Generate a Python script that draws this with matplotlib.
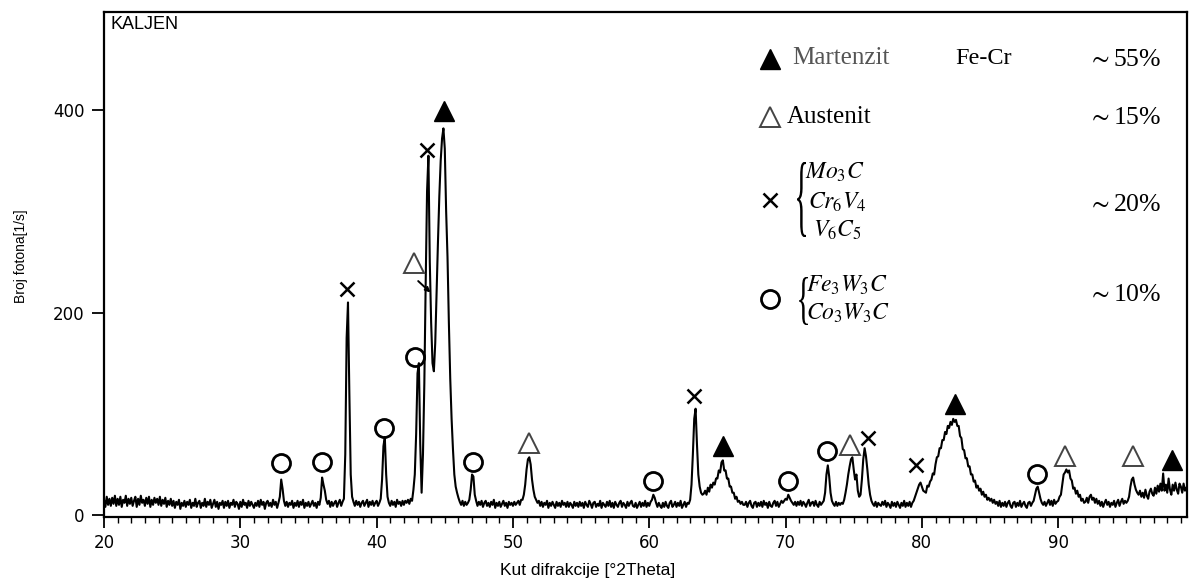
import numpy as np
import matplotlib
matplotlib.use("Agg")
import matplotlib.pyplot as plt
from matplotlib.ticker import MultipleLocator
from matplotlib.textpath import TextPath
from matplotlib.patches import PathPatch
from matplotlib.font_manager import FontProperties
from matplotlib.transforms import Affine2D, IdentityTransform

plt.rcParams.update({"font.family": "Liberation Sans", "mathtext.fontset": "stix"})

W, H = 1194, 583

# measured counts, one value every 0.1 deg 2theta, one row per degree (20.0 ... 99.9)
counts = [
    15, 8, 18, 10, 16, 9, 17, 11, 19, 9,        # 20
    16, 10, 18, 8, 15, 12, 19, 9, 16, 11,       # 21
    17, 9, 14, 18, 8, 16, 10, 19, 12, 15,       # 22
    9, 17, 11, 18, 8, 15, 10, 17, 12, 16,       # 23
    10, 18, 9, 15, 11, 17, 8, 14, 10, 16,       # 24
    9, 14, 7, 13, 10, 15, 6, 12, 9, 14,         # 25
    8, 13, 10, 15, 7, 12, 9, 16, 8, 12,         # 26
    14, 7, 12, 9, 16, 8, 13, 10, 15, 7,         # 27
    11, 15, 8, 13, 6, 12, 10, 14, 7, 13,        # 28
    9, 14, 7, 12, 10, 15, 8, 13, 11, 6,         # 29
    13, 8, 15, 10, 12, 7, 14, 9, 13, 10,        # 30
    7, 12, 9, 14, 8, 15, 10, 13, 6, 12,         # 31
    14, 9, 12, 8, 15, 10, 13, 7, 12, 18,        # 32
    35, 26, 14, 9, 13, 8, 12, 10, 14, 7,        # 33
    12, 9, 14, 8, 13, 10, 15, 7, 12, 9,         # 34
    13, 8, 11, 14, 9, 12, 7, 13, 10, 17,        # 35
    37, 30, 24, 15, 11, 14, 8, 13, 9, 12,       # 36
    14, 8, 12, 15, 9, 13, 16, 60, 175, 210,     # 37
    120, 40, 18, 13, 9, 14, 10, 13, 8, 12,      # 38
    14, 9, 12, 15, 8, 13, 10, 14, 9, 12,        # 39
    14, 9, 12, 16, 35, 68, 77, 40, 18, 12,      # 40
    9, 14, 10, 13, 8, 15, 11, 13, 9, 14,        # 41
    10, 14, 12, 15, 11, 16, 14, 25, 40, 80,     # 42
    140, 150, 70, 22, 60, 130, 230, 320, 355, 250,   # 43
    190, 150, 142, 170, 220, 270, 315, 350, 372, 382,  # 44
    362, 300, 255, 190, 135, 95, 65, 40, 28, 22,  # 45
    17, 13, 10, 14, 9, 13, 10, 12, 15, 25,      # 46
    40, 38, 20, 14, 9, 13, 10, 14, 8, 12,       # 47
    14, 9, 12, 8, 13, 10, 15, 7, 12, 9,         # 48
    13, 8, 11, 14, 9, 12, 7, 13, 10, 12,        # 49
    9, 13, 10, 12, 14, 10, 15, 15, 20, 30,      # 50
    45, 55, 57, 50, 35, 25, 18, 15, 12, 14,     # 51
    9, 13, 8, 12, 10, 14, 7, 12, 9, 13,         # 52
    10, 7, 13, 9, 12, 8, 14, 10, 12, 8,         # 53
    13, 8, 12, 10, 7, 13, 9, 12, 8, 13,         # 54
    9, 12, 7, 13, 10, 8, 14, 11, 7, 12,         # 55
    13, 8, 11, 9, 14, 7, 12, 10, 8, 13,         # 56
    9, 14, 8, 12, 7, 13, 10, 8, 12, 14,         # 57
    8, 12, 10, 7, 13, 9, 12, 14, 9, 8,          # 58
    12, 7, 10, 13, 8, 12, 9, 14, 8, 12,         # 59
    9, 13, 15, 20, 17, 12, 8, 12, 9, 7,         # 60
    12, 8, 13, 9, 7, 12, 14, 8, 10, 13,         # 61
    8, 12, 9, 14, 7, 10, 13, 8, 12, 11,         # 62
    15, 30, 60, 95, 105, 70, 40, 28, 22, 20,    # 63
    21, 24, 20, 27, 23, 30, 27, 32, 30, 36,     # 64
    36, 44, 42, 52, 54, 44, 44, 36, 36, 28,     # 65
    28, 22, 22, 16, 18, 13, 14, 11, 13, 10,     # 66
    10, 13, 8, 12, 14, 9, 7, 12, 13, 8,         # 67
    12, 9, 13, 8, 14, 10, 12, 7, 13, 9,         # 68
    8, 12, 14, 9, 13, 8, 11, 14, 12, 14,        # 69
    16, 15, 20, 17, 14, 12, 10, 13, 9, 13,      # 70
    10, 14, 9, 13, 11, 8, 12, 15, 9, 12,        # 71
    13, 9, 14, 10, 8, 13, 10, 12, 14, 22,       # 72
    40, 49, 38, 22, 14, 11, 9, 13, 9, 12,       # 73
    10, 12, 11, 15, 22, 30, 40, 48, 55, 57,     # 74
    45, 35, 40, 24, 18, 20, 35, 55, 66, 58,     # 75
    45, 30, 20, 14, 11, 9, 13, 8, 12, 10,       # 76
    9, 13, 10, 14, 8, 12, 10, 7, 13, 9,         # 77
    12, 8, 13, 10, 7, 12, 9, 14, 8, 12,         # 78
    9, 13, 8, 12, 14, 18, 22, 26, 30, 32,       # 79
    28, 24, 23, 22, 29, 28, 33, 35, 41, 40,     # 80
    50, 57, 58, 66, 66, 74, 74, 82, 80, 88,     # 81
    86, 92, 89, 95, 92, 94, 88, 88, 78, 76,     # 82
    65, 64, 56, 56, 48, 48, 40, 40, 33, 34,     # 83
    27, 29, 24, 26, 20, 23, 18, 20, 15, 17,     # 84
    14, 16, 12, 15, 11, 13, 9, 14, 8, 12,       # 85
    9, 13, 8, 12, 14, 9, 7, 12, 13, 8,          # 86
    12, 9, 14, 8, 11, 13, 9, 7, 12, 13,         # 87
    9, 12, 14, 20, 26, 28, 22, 16, 12, 10,      # 88
    13, 9, 12, 15, 10, 14, 9, 15, 11, 13,       # 89
    14, 18, 20, 30, 40, 42, 45, 42, 44, 36,     # 90
    34, 26, 27, 21, 24, 18, 20, 14, 16, 12,     # 91
    13, 17, 12, 18, 20, 15, 17, 12, 16, 11,     # 92
    14, 9, 13, 8, 12, 15, 10, 13, 8, 12,        # 93
    10, 14, 8, 12, 15, 9, 13, 16, 11, 14,       # 94
    12, 14, 18, 28, 35, 37, 30, 25, 22, 20,     # 95
    24, 18, 22, 17, 25, 19, 16, 23, 26, 21,     # 96
    19, 27, 21, 29, 23, 31, 24, 41, 24, 30,     # 97
    22, 36, 25, 20, 30, 24, 32, 25, 21, 31,     # 98
    28, 22, 31, 24, 27, 29, 22, 28, 25, 30,     # 99
]
two_theta = np.round(20.0 + 0.1 * np.arange(len(counts)), 1)

# phase markers (2theta, height of symbol)
martenzit_x = [44.95, 65.4, 82.45, 98.35]
martenzit_y = [399, 68, 110, 54]
austenit_x = [42.75, 51.2, 74.7, 90.5, 95.5]
austenit_y = [249, 71, 69, 58, 58]
karbid_x = [37.85, 43.7, 63.3, 76.05, 79.6]
karbid_y = [223, 361, 118, 76, 49]
eta_x = [33.0, 36.0, 40.55, 42.8, 47.05, 60.3, 70.2, 73.05, 88.45]
eta_y = [51, 52, 86, 156, 52, 34, 34, 63, 40]

phase_names = ["Martenzit", "Austenit"]
phase_pct = [r"$\sim$55%", r"$\sim$15%", r"$\sim$20%", r"$\sim$10%"]
karbid_formulas = ["$Mo_3C$", "$Cr_6V_4$", "$V_6C_5$"]
eta_formulas = ["$Fe_3W_3C$", "$Co_3W_3C$"]

fig = plt.figure(figsize=(W / 100, H / 100), dpi=100)
ax = fig.add_axes([104 / W, 1 - 517 / H, 1083 / W, 505 / H])

ax.plot(two_theta, counts, color="black", lw=1.5)

mk = dict(ls="none", clip_on=False)
ax.plot(martenzit_x, martenzit_y, marker="^", ms=14, mfc="black", mec="black", **mk)
ax.plot(austenit_x, austenit_y, marker="^", ms=14, mfc="white", mec="#444444", mew=1.4, **mk)
ax.plot(karbid_x, karbid_y, marker="x", ms=10, mec="black", mew=1.8, **mk)
ax.plot(eta_x, eta_y, marker="o", ms=13, mfc="none", mec="black", mew=2.0, **mk)
ax.annotate("", xy=(44.1, 218), xytext=(42.9, 233),
            arrowprops=dict(arrowstyle="-|>", lw=1.4, color="black", mutation_scale=7))

ax.set_xlim(20, 99.45)
ax.set_ylim(-2, 497)
ax.set_xticks(range(20, 100, 10))
ax.xaxis.set_minor_locator(MultipleLocator(1))
ax.set_yticks([0, 200, 400])
ax.tick_params(axis="x", which="major", direction="out", length=8, width=1.3, pad=4,
               labelsize=12, labelfontfamily="DejaVu Sans")
ax.tick_params(axis="x", which="minor", direction="out", length=4, width=1.0)
ax.tick_params(axis="y", which="major", direction="out", length=9, width=1.3, pad=5,
               labelsize=12, labelfontfamily="DejaVu Sans")
for s in ax.spines.values():
    s.set_linewidth(1.6)

ax.set_xlabel("Kut difrakcije [°2Theta]", fontsize=12.5)
ax.xaxis.set_label_coords(0.447, -0.092)
ax.set_ylabel("Broj fotona[1/s]", fontsize=10)
ax.yaxis.set_label_coords(-0.07, 0.517)
ax.text(0.006, 0.992, "KALJEN", transform=ax.transAxes, fontsize=13, va="top", ha="left")


# ---- phase legend (top right) ----
def fpos(px, py):
    return px / W, 1 - py / H


def brace(px, top, bottom, width=9):
    tp = TextPath((0, 0), "{", size=20, prop=FontProperties(family="Liberation Serif"))
    ext = tp.get_extents()
    tr = (Affine2D().translate(-ext.x0, -ext.y0)
          .scale(width / ext.width, (bottom - top) / ext.height)
          .translate(px, H - bottom))
    fig.add_artist(PathPatch(tr.transform_path(tp), transform=IdentityTransform(),
                             fc="black", ec="none"))


def legend_marker(px, py, **kw):
    x, y = fpos(px, py)
    fig.add_artist(plt.Line2D([x], [y], transform=fig.transFigure, **kw))


serif = dict(family="Liberation Serif", va="center", ha="left")
legend_marker(770, 59, marker="^", ms=14, color="black")
legend_marker(770, 117, marker="^", ms=14, mfc="white", mec="#444444", mew=1.4)
legend_marker(770, 200, marker="x", ms=10, mec="black", mew=1.8)
legend_marker(770, 299, marker="o", ms=13, mfc="none", mec="black", mew=2.0)

fig.text(*fpos(792, 58), phase_names[0], fontsize=18, color="#555555", **serif)
fig.text(*fpos(955, 58), "Fe-Cr", fontsize=17.5, color="black", **serif)
fig.text(*fpos(787, 117), phase_names[1], fontsize=18, color="black", **serif)

for txt, py in zip(phase_pct, [60, 118, 205, 295]):
    fig.text(*fpos(1088, py), txt, fontsize=18.5, **serif)

brace(797, 162, 237)
for txt, px, py in zip(karbid_formulas, [805, 808, 813], [172, 202, 230]):
    fig.text(*fpos(px, py), txt, fontsize=17, va="center", ha="left")
brace(799, 277, 325)
for txt, py in zip(eta_formulas, [285, 313]):
    fig.text(*fpos(806, py), txt, fontsize=17, va="center", ha="left")

fig.savefig("out.png", dpi=100)
